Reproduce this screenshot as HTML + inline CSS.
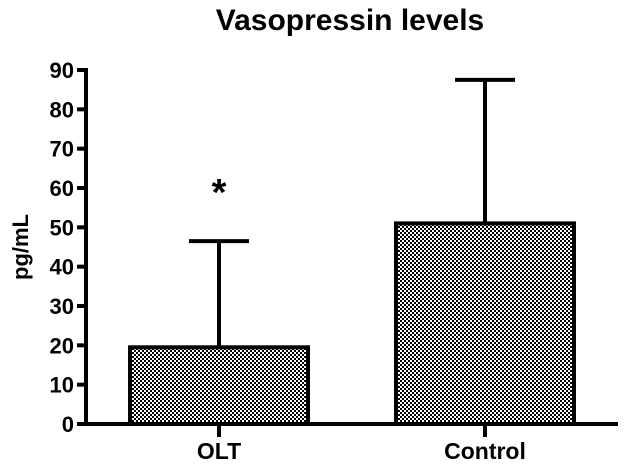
<!DOCTYPE html>
<html><head><meta charset="utf-8"><style>body{margin:0;background:#fff}svg{display:block;font-family:"Liberation Sans",Arial,sans-serif;font-weight:bold}</style></head>
<body>
<svg width="624" height="465" xmlns="http://www.w3.org/2000/svg">
<defs><pattern id="chk" width="4" height="4" patternUnits="userSpaceOnUse"><rect width="4" height="4" fill="#fff"/><rect width="2" height="2" fill="#000"/><rect x="2" y="2" width="2" height="2" fill="#000"/></pattern></defs>
<text x="350" y="30" text-anchor="middle" font-size="30">Vasopressin levels</text>
<text transform="translate(28,247) rotate(-90)" text-anchor="middle" font-size="22">pg/mL</text>
<g id="plot"></g>
</svg>
<script>
const categories=["OLT","Control"];
const means=[19.5,51];
const errors=[27,36.5];
const yTicks=[0,10,20,30,40,50,60,70,80,90];
const stars=["*",""];
const y0=424,yTop=70,axX=86;
function y(v){return y0-(v/90)*(y0-yTop);}
const centers=[219,485],bw=178;
const g=document.getElementById('plot');
const NS="http://www.w3.org/2000/svg";
function mk(t,a){const e=document.createElementNS(NS,t);for(const k in a)e.setAttribute(k,a[k]);g.appendChild(e);return e;}
categories.forEach((c,i)=>{
  const cx=centers[i];
  const eb=mk('path',{d:`M${cx},${y(means[i])} V${y(means[i]+errors[i])} M${cx-30},${y(means[i]+errors[i])} H${cx+30}`,stroke:'#000','stroke-width':4,fill:'none'});
  
  
  const b=mk('rect',{x:cx-bw/2,y:y(means[i]),width:bw,height:y0-y(means[i]),fill:'url(#chk)',stroke:'#000','stroke-width':4});
  
  
  const t=mk('line',{x1:cx,x2:cx,y1:y0,y2:y0+13,stroke:'#000','stroke-width':4});
  
  
  const l=mk('text',{x:cx,y:459,'text-anchor':'middle','font-size':23});
  l.textContent=c;
  
  
  if(stars[i]){const s=mk('text',{x:cx,y:y(means[i]+errors[i])-36,'text-anchor':'middle','font-size':38});s.textContent=stars[i];
  
  }
});
yTicks.forEach(v=>{
  const t=mk('line',{x1:axX-9,x2:axX,y1:y(v),y2:y(v),stroke:'#000','stroke-width':4});
  
  
  const l=mk('text',{x:axX-12,y:y(v)+8,'text-anchor':'end','font-size':22});
  l.textContent=v;
  
  
});
const ya=mk('line',{x1:axX,x2:axX,y1:yTop-2,y2:y0+2,stroke:'#000','stroke-width':4});


const xa=mk('line',{x1:axX-9,x2:618,y1:y0,y2:y0,stroke:'#000','stroke-width':4});


</script>
</body></html>
